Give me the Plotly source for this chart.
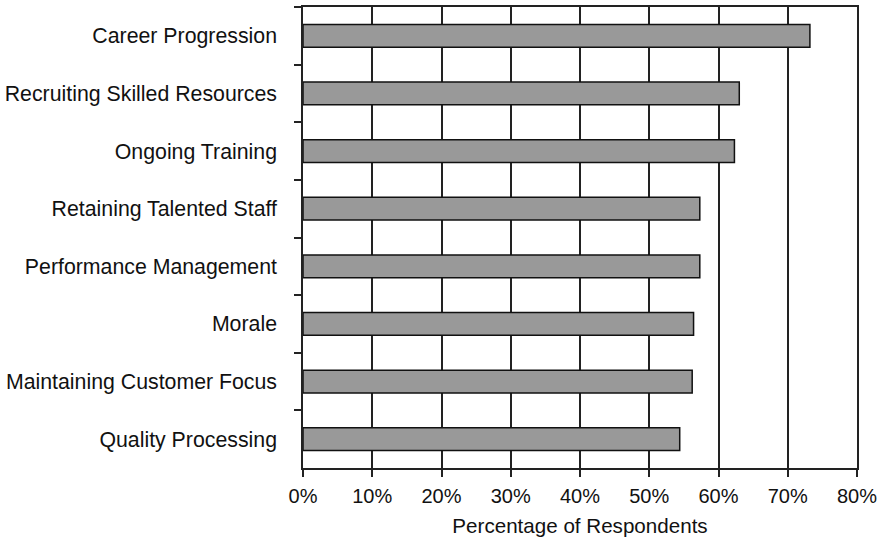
import plotly.graph_objects as go

# Survey results, listed from top to bottom
categories = [
    "Career Progression",
    "Recruiting Skilled Resources",
    "Ongoing Training",
    "Retaining Talented Staff",
    "Performance Management",
    "Morale",
    "Maintaining Customer Focus",
    "Quality Processing",
]
percent_values = [73.2, 63.0, 62.3, 57.3, 57.3, 56.4, 56.2, 54.4]
x_tick_values = [0, 10, 20, 30, 40, 50, 60, 70, 80]
x_tick_labels = ["0%", "10%", "20%", "30%", "40%", "50%", "60%", "70%", "80%"]

FONT = "Liberation Sans, Arial, Helvetica, sans-serif"

fig = go.Figure(
    go.Bar(
        x=percent_values,
        y=categories,
        orientation="h",
        marker=dict(color="#999999", line=dict(color="#111111", width=1.5)),
        hoverinfo="x+y",
    )
)

fig.update_layout(
    width=880,
    height=537,
    margin=dict(l=303, r=23, t=7, b=69),
    paper_bgcolor="white",
    plot_bgcolor="white",
    bargap=0.606,
    showlegend=False,
    font=dict(family=FONT, size=20, color="#111111"),
)

fig.update_xaxes(
    range=[0, 80],
    tickvals=x_tick_values,
    ticktext=x_tick_labels,
    automargin=False,
    showgrid=True,
    gridcolor="#222222",
    gridwidth=1.5,
    zeroline=False,
    showline=True,
    linecolor="#222222",
    linewidth=1.5,
    mirror=True,
    ticks="outside",
    ticklen=7,
    tickwidth=1.5,
    tickcolor="#222222",
    tickfont=dict(size=20),
    ticklabelstandoff=2,
    title=dict(text="Percentage of Respondents", font=dict(size=20.6), standoff=15),
)

fig.update_yaxes(
    categoryorder="array",
    categoryarray=categories,
    autorange="reversed",
    automargin=False,
    showgrid=False,
    zeroline=False,
    showline=True,
    linecolor="#222222",
    linewidth=1.5,
    mirror=True,
    ticks="outside",
    tickson="boundaries",
    ticklen=7,
    tickwidth=1.5,
    tickcolor="#222222",
    tickfont=dict(size=21.3),
    ticklabelstandoff=20,
)

fig.write_html("out.html")
